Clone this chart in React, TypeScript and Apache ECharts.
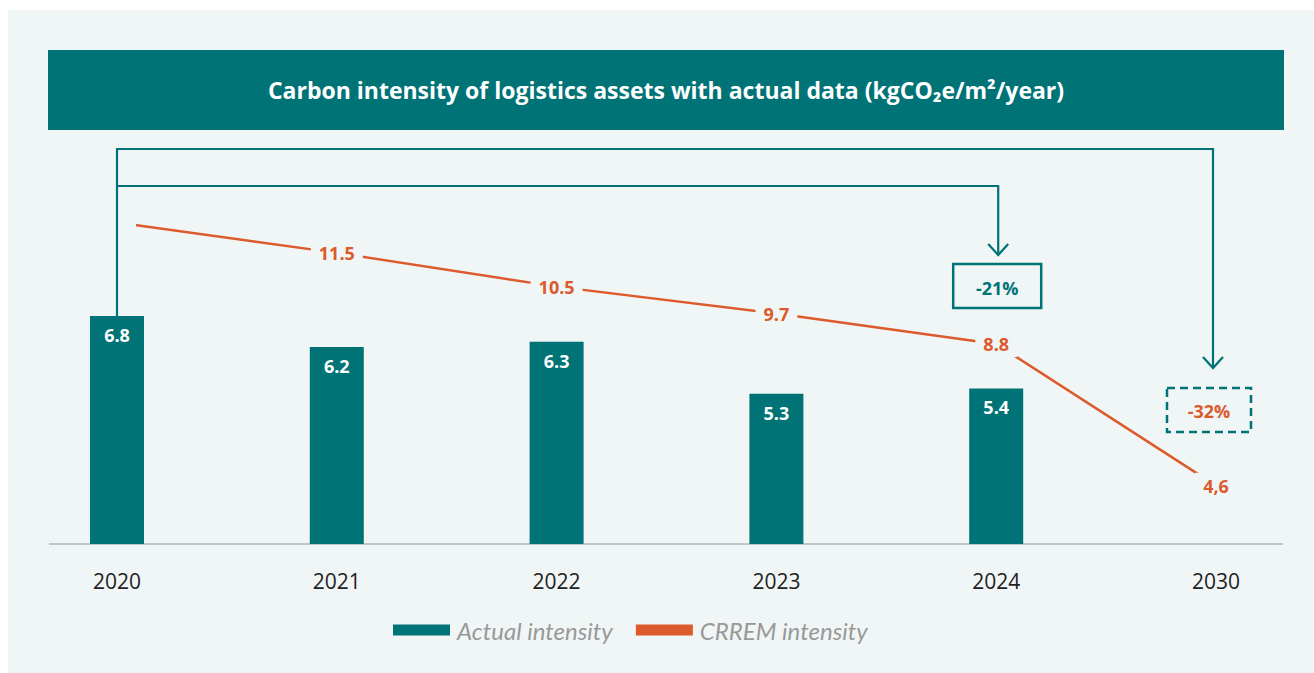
import React, { useEffect, useRef } from "react";
import * as echarts from "echarts";

const years = ["2020", "2021", "2022", "2023", "2024", "2030"];
const actualIntensity: (number | null)[] = [6.8, 6.2, 6.3, 5.3, 5.4, null];
const crremIntensity = [12.4, 11.5, 10.5, 9.7, 8.8, 4.6];
const crremLabels = ["", "11.5", "10.5", "9.7", "8.8", "4,6"];
const titleText = "Carbon intensity of logistics assets with actual data (kgCO\u2082e/m\u00B2/year)";
const reductionTo2024 = "-21%";
const reductionTo2030 = "-32%";

const TEAL = "#007376";
const ORANGE = "#dc5a2c";
const PANEL = "#f0f6f6";
const FONT = "'Open Sans', 'Noto Sans', sans-serif";

export default function App() {
  const ref = useRef<HTMLDivElement>(null);
  useEffect(() => {
    if (!ref.current) return;
    const chart = echarts.init(ref.current, undefined, { renderer: "svg" });
    const option: any = {
      animation: false,
      backgroundColor: "#ffffff",
      grid: { left: 117, right: 98, top: 150, bottom: 129, containLabel: false },
      legend: {
        left: 393,
        top: 618,
        padding: 0,
        icon: "rect",
        itemWidth: 57,
        itemHeight: 11,
        itemGap: 23,
        textStyle: { color: "#999999", fontStyle: "italic", fontSize: 24, fontFamily: "Lato, sans-serif", padding: [0, 0, 0, 2] },
        data: ["Actual intensity", "CRREM intensity"],
      },
      xAxis: {
        type: "category",
        data: years,
        boundaryGap: false,
        axisLine: { show: false },
        axisTick: { show: false },
        splitLine: { show: false },
        axisLabel: { color: "#222222", fontSize: 21, fontFamily: FONT, margin: 26 },
      },
      yAxis: [
        { type: "value", min: 2.4, max: 10, show: false, splitLine: { show: false } },
        { type: "value", min: 2.87, max: 14.55, show: false, splitLine: { show: false } },
      ],
      series: [
        {
          name: "Actual intensity",
          type: "bar",
          data: actualIntensity,
          barWidth: 54,
          itemStyle: { color: TEAL },
          z: 2,
          label: {
            show: true,
            position: "insideTop",
            distance: 10,
            color: "#ffffff",
            fontWeight: "bold",
            fontSize: 18,
            fontFamily: FONT,
          },
        },
        {
          name: "CRREM intensity",
          type: "line",
          yAxisIndex: 1,
          data: crremIntensity.map((v, i) =>
            i === 0
              ? { value: v, label: { formatter: "\u2003", padding: [6, 10] } }
              : { value: v }
          ),
          symbol: "circle",
          symbolSize: 1,
          showSymbol: true,
          lineStyle: { color: ORANGE, width: 2.5 },
          itemStyle: { color: ORANGE },
          z: 3,
          label: {
            show: true,
            position: "inside",
            formatter: (p: any) => crremLabels[p.dataIndex] || "\u2003",
            color: ORANGE,
            fontWeight: "bold",
            fontSize: 18,
            fontFamily: FONT,
            backgroundColor: PANEL,
            padding: [4, 8],
          },
        },
      ],
      graphic: [
        { type: "rect", z: -10, silent: true, shape: { x: 8, y: 10, width: 1306, height: 663 }, style: { fill: PANEL } },
        { type: "rect", z: -9, silent: true, shape: { x: 48, y: 50, width: 1236, height: 80 }, style: { fill: TEAL } },
        {
          type: "text",
          z: -8,
          x: 666,
          y: 90,
          style: {
            text: titleText,
            fill: "#ffffff",
            fontSize: 23,
            fontWeight: "bold",
            fontFamily: FONT,
            align: "center",
            verticalAlign: "middle",
          },
        },
      ],
    };
    chart.setOption(option);

    const px = (i: number) => chart.convertToPixel({ xAxisIndex: 0 }, i) as number;
    const x0 = px(0);
    const x4 = px(4);
    const x5 = px(5);
    const barTop = (chart.convertToPixel({ seriesIndex: 0 }, [0, actualIntensity[0] as number]) as number[])[1];
    const axisY = (chart.convertToPixel({ yAxisIndex: 0 }, 2.4) as number);
    const topY = 149;
    const midY = 186;
    const tip1 = 255;
    const tip2 = 368;
    const stroke = { stroke: TEAL, lineWidth: 2.2, fill: "none" };
    const extra = [
      { type: "line", z: 1, shape: { x1: 49, y1: axisY, x2: 1283, y2: axisY }, style: { stroke: "#c3c6c7", lineWidth: 2 } },
      { type: "polyline", z: 100, shape: { points: [[x0, barTop], [x0, topY], [x5 - 3, topY], [x5 - 3, tip2]] }, style: stroke },
      { type: "polyline", z: 100, shape: { points: [[x5 - 13, tip2 - 11], [x5 - 3, tip2], [x5 + 7, tip2 - 11]] }, style: stroke },
      { type: "polyline", z: 100, shape: { points: [[x0, midY], [x4 + 2, midY], [x4 + 2, tip1]] }, style: stroke },
      { type: "polyline", z: 100, shape: { points: [[x4 - 8, tip1 - 11], [x4 + 2, tip1], [x4 + 12, tip1 - 11]] }, style: stroke },
      { type: "rect", z: 100, shape: { x: x4 - 43, y: 264, width: 88, height: 44 }, style: { stroke: TEAL, lineWidth: 2.5, fill: "none" } },
      {
        type: "text", z: 101, x: x4 + 1, y: 288,
        style: { text: reductionTo2024, fill: TEAL, fontSize: 18, fontWeight: "bold", fontFamily: FONT, align: "center", verticalAlign: "middle" },
      },
      { type: "rect", z: 100, shape: { x: x5 - 49, y: 388, width: 84, height: 44 }, style: { stroke: TEAL, lineWidth: 2.5, fill: "none", lineDash: [8, 5] } },
      {
        type: "text", z: 101, x: x5 - 7, y: 411,
        style: { text: reductionTo2030, fill: ORANGE, fontSize: 18, fontWeight: "bold", fontFamily: FONT, align: "center", verticalAlign: "middle" },
      },
    ];
    chart.setOption({ graphic: [...option.graphic, ...extra] });

    return () => chart.dispose();
  }, []);
  return (
    <div
      ref={ref}
      style={{ position: "fixed", left: 0, top: 0, width: 1314, height: 673 }}
    />
  );
}
